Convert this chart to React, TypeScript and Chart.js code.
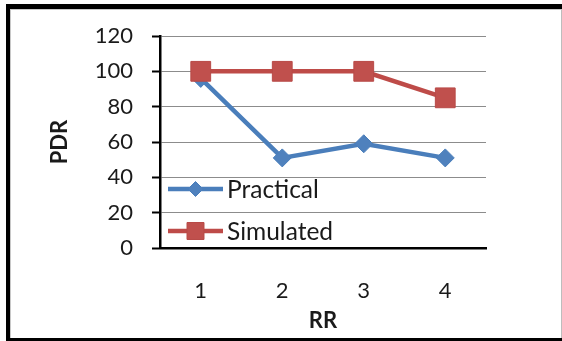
import React, { useEffect, useRef } from 'react';
import { Chart, registerables } from 'chart.js';
import { drawPoint } from 'chart.js/helpers';

Chart.register(...registerables);

const categories = ['1', '2', '3', '4'];
const practical = [96, 51, 59, 51];
const simulated = [100, 100, 100, 85];
const seriesNames = ['Practical', 'Simulated'];
const yMin = 0;
const yMax = 120;
const yStep = 20;
const xTitle = 'RR';
const yTitle = 'PDR';

const FONT = 'Lato';
const TEXT = '#1a1a1a';

const insideLegend = {
  id: 'insideLegend',
  afterDatasetsDraw(chart: any) {
    const { ctx, chartArea } = chart;
    const rows = [153, 195];
    chart.data.datasets.forEach((ds: any, i: number) => {
      const y = chartArea.top + rows[i];
      const x0 = chartArea.left + 8;
      const x1 = chartArea.left + 63;
      ctx.save();
      ctx.strokeStyle = ds.borderColor;
      ctx.lineWidth = ds.borderWidth;
      ctx.beginPath();
      ctx.moveTo(x0, y);
      ctx.lineTo(x1, y);
      ctx.stroke();
      ctx.fillStyle = ds.pointBackgroundColor;
      ctx.strokeStyle = ds.pointBorderColor;
      ctx.lineWidth = 1;
      drawPoint(ctx, { pointStyle: ds.pointStyle, rotation: 0, radius: ds.legendRadius, borderWidth: 1 }, (x0 + x1) / 2, y);
      ctx.fillStyle = TEXT;
      ctx.font = `24.5px ${FONT}`;
      ctx.textAlign = 'left';
      ctx.textBaseline = 'alphabetic';
      ctx.fillText(ds.label, x1 + 4, y + 8.5);
      ctx.restore();
    });
  },
};

export default function App() {
  const ref = useRef<HTMLCanvasElement>(null);
  useEffect(() => {
    if (!ref.current) return;
    const chart = new Chart(ref.current, {
      type: 'line',
      data: {
        labels: categories,
        datasets: [
          {
            label: seriesNames[0],
            data: practical,
            borderColor: '#4A7EBB',
            backgroundColor: '#4F81BD',
            pointBackgroundColor: '#4F81BD',
            pointBorderColor: '#4A7EBB',
            pointStyle: 'rectRot',
            pointRadius: 9,
            pointHoverRadius: 9,
            pointBorderWidth: 1,
            borderWidth: 4.5,
            tension: 0,
            order: 1,
            legendRadius: 7.5,
          } as any,
          {
            label: seriesNames[1],
            data: simulated,
            borderColor: '#BE4B48',
            backgroundColor: '#C0504D',
            pointBackgroundColor: '#C0504D',
            pointBorderColor: '#B84A47',
            pointStyle: 'rect',
            pointRadius: 14,
            pointHoverRadius: 14,
            pointBorderWidth: 1,
            borderWidth: 4.5,
            tension: 0,
            order: 0,
            legendRadius: 12,
          } as any,
        ],
      },
      options: {
        animation: false,
        responsive: false,
        devicePixelRatio: 1,
        events: [],
        layout: { padding: { left: 0, top: 36, right: 76, bottom: 0 } },
        plugins: {
          legend: { display: false },
          tooltip: { enabled: false },
        },
        scales: {
          x: {
            type: 'category',
            offset: true,
            grid: { color: 'transparent', drawTicks: false },
            border: { display: true, color: '#000', width: 2.5 },
            ticks: { font: { family: FONT, size: 22 }, color: TEXT, padding: 30 },
            title: {
              display: true,
              text: xTitle,
              font: { family: FONT, size: 22, weight: 'bold' },
              color: TEXT,
              padding: { top: 0, bottom: 7 },
            },
            afterFit(scale: any) {
              scale.height = 93;
            },
          },
          y: {
            min: yMin,
            max: yMax,
            ticks: { stepSize: yStep, font: { family: FONT, size: 22 }, color: TEXT, padding: 19 },
            grid: { color: '#8c8c8c', lineWidth: 1, tickColor: '#000', tickLength: 8, tickWidth: 2 },
            border: { color: '#000', width: 2.5 },
            title: {
              display: true,
              text: yTitle,
              font: { family: FONT, size: 22, weight: 'bold' },
              color: TEXT,
              padding: { top: 47, bottom: 0 },
            },
            afterFit(scale: any) {
              scale.width = 160;
            },
          },
        },
      },
      plugins: [insideLegend],
    });
    return () => chart.destroy();
  }, []);

  return (
    <div style={{ position: 'fixed', left: 0, top: 0, width: 562, height: 341, overflow: 'hidden', background: '#fff' }}>
      <div
        style={{
          position: 'absolute',
          left: 6,
          top: 4,
          width: 560,
          height: 339,
          boxSizing: 'border-box',
          borderTop: '5px solid #000',
          borderLeft: '5px solid #000',
          borderBottom: '5px solid #000',
        }}
      />
      <div
        style={{
          position: 'absolute',
          left: 10,
          top: 9,
          width: 552,
          height: 329,
          boxSizing: 'border-box',
          borderTop: '1px solid #c8c8c8',
          borderLeft: '1px solid #c8c8c8',
          borderRight: '1px solid #bdbdbd',
        }}
      />
      <canvas ref={ref} width={562} height={341} style={{ position: 'absolute', left: 0, top: 0 }} />
    </div>
  );
}
